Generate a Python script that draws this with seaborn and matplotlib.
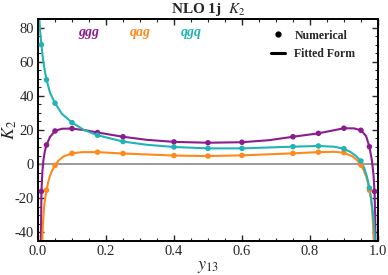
import numpy as np
import pandas as pd
import matplotlib
matplotlib.use("Agg")
import matplotlib.pyplot as plt
import seaborn as sns
from matplotlib.ticker import MultipleLocator
from matplotlib.lines import Line2D

# numerical points
y13_pts = [0.01, 0.025, 0.05, 0.1, 0.175, 0.25, 0.4, 0.5, 0.6, 0.75, 0.825, 0.9, 0.95, 0.975, 0.99]
ggg_pts = [-16, 11.2, 19.4, 20.8, 18.5, 16.0, 13.0, 12.5, 12.8, 16.0, 18.0, 21.0, 19.8, 10.2, -16]
qag_pts = [-60, -15.3, -0.8, 6.3, 7.0, 6.2, 5.0, 4.7, 5.1, 6.3, 7.0, 6.7, -0.6, -15.3, -60]
qgq_pts = [70, 49.4, 35.7, 24.3, 16.9, 13.2, 10.0, 9.2, 9.2, 10.2, 10.6, 9.0, 1.8, -14, -60]

# fitted-form curves (denser near the edges)
ggg_x = [0.007, 0.0085, 0.01, 0.013, 0.016, 0.02, 0.025, 0.035, 0.05, 0.07, 0.1, 0.14, 0.175, 0.25, 0.32,
         0.4, 0.5, 0.6, 0.68, 0.75, 0.825, 0.87, 0.9, 0.93, 0.95, 0.965, 0.975, 0.982, 0.987, 0.99, 0.992, 0.994]
ggg_y = [-80, -45, -16, -4, 2.5, 7.5, 11.2, 15.8, 19.4, 20.7, 20.8, 19.8, 18.5, 16.0, 14.2,
         13.0, 12.5, 12.8, 14.0, 16.0, 18.0, 19.8, 21.0, 20.9, 19.8, 16.5, 10.2, 2.5, -6, -16, -30, -80]
qag_x = [0.011, 0.0125, 0.015, 0.018, 0.021, 0.025, 0.03, 0.035, 0.042, 0.05, 0.06, 0.075, 0.1, 0.13, 0.175,
         0.25, 0.4, 0.5, 0.6, 0.75, 0.825, 0.87, 0.9, 0.925, 0.94, 0.95, 0.958, 0.965, 0.97, 0.975,
         0.979, 0.982, 0.985, 0.9875, 0.989]
qag_y = [-80, -45, -33, -25, -20, -15.3, -10.5, -7, -3.5, -0.8, 2.0, 4.5, 6.3, 7.0, 7.0,
         6.2, 5.0, 4.7, 5.1, 6.3, 7.0, 7.2, 6.7, 4.5, 2.0, -0.6, -3.5, -7, -10.5, -15.3,
         -20, -25, -33, -45, -80]
qgq_x = [0.003, 0.004, 0.0055, 0.007, 0.0085, 0.01, 0.0125, 0.015, 0.02, 0.025, 0.035, 0.05, 0.07, 0.1,
         0.135, 0.175, 0.25, 0.32, 0.4, 0.5, 0.6, 0.75, 0.825, 0.87, 0.9, 0.92, 0.935, 0.95, 0.96,
         0.968, 0.975, 0.98, 0.985, 0.9885, 0.991, 0.993]
qgq_y = [95, 85, 80, 76, 73, 70, 65, 61, 54.5, 49.4, 42, 35.7, 29.5, 24.3,
         20.0, 16.9, 13.2, 11.3, 10.0, 9.2, 9.2, 10.2, 10.6, 10.2, 9.0, 7.0, 4.8, 1.8, -2.5,
         -7.5, -14, -20, -28, -36, -45, -80]

channels = ["ggg", "qag", "qgq"]
colors = {"ggg": "#8C1C8E", "qag": "#FF8A1C", "qgq": "#20B4B4"}

pts = pd.DataFrame({
    "y13": y13_pts * 3,
    "K2": ggg_pts + qag_pts + qgq_pts,
    "channel": ["ggg"] * 15 + ["qag"] * 15 + ["qgq"] * 15,
})
fit = pd.concat([
    pd.DataFrame({"y13": ggg_x, "K2": ggg_y, "channel": "ggg"}),
    pd.DataFrame({"y13": qag_x, "K2": qag_y, "channel": "qag"}),
    pd.DataFrame({"y13": qgq_x, "K2": qgq_y, "channel": "qgq"}),
])

sns.set_style("ticks")
plt.rcParams["font.family"] = ["Liberation Serif", "DejaVu Serif"]
plt.rcParams["mathtext.fontset"] = "stix"
plt.rcParams["axes.unicode_minus"] = False

fig = plt.figure(figsize=(3.88, 2.75), dpi=100)
ax = fig.add_axes([0.098, 0.124, 0.876, 0.807])

ax.axhline(0, color="#8a8a8a", lw=1.2, zorder=1)
sns.lineplot(data=fit, x="y13", y="K2", hue="channel", palette=colors, hue_order=channels,
             estimator=None, sort=False, lw=1.5, legend=False, ax=ax, zorder=2)
sns.scatterplot(data=pts, x="y13", y="K2", hue="channel", palette=colors, hue_order=channels,
                s=16, edgecolor="none", legend=False, ax=ax, zorder=3)

ax.set_xlim(0, 1)
ax.set_ylim(-45, 85)
ax.xaxis.set_major_locator(MultipleLocator(0.2))
ax.xaxis.set_minor_locator(MultipleLocator(0.05))
ax.yaxis.set_major_locator(MultipleLocator(20))
ax.yaxis.set_minor_locator(MultipleLocator(5))
ax.xaxis.set_major_formatter(matplotlib.ticker.FormatStrFormatter("%.1f"))
ax.tick_params(which="both", direction="in", top=True, right=True, labelsize=10.5, pad=3)
ax.tick_params(which="major", length=4, width=1.0)
ax.tick_params(which="minor", length=2, width=0.8)
for s in ax.spines.values():
    s.set_linewidth(1.4)
    s.set_color("black")

ax.set_xlabel("$y_{13}$", fontsize=13, labelpad=0)
ax.set_ylabel("$K_2$", fontsize=13)
ax.yaxis.set_label_coords(-0.055, 0.5)
ax.set_title("NLO 1j  $\\boldsymbol{K_2}$", fontsize=11, fontweight="bold", pad=4)

# channel labels
for name, xpos in zip(channels, [0.15, 0.30, 0.45]):
    ax.text(xpos, 77, name, color=colors[name], fontsize=10, fontweight="bold",
            fontstyle="italic", ha="center", va="center")

# legend
handles = [Line2D([], [], ls="none", marker="o", ms=3.5, color="black"),
           Line2D([], [], ls="-", lw=2.2, color="black")]
leg = ax.legend(handles, ["Numerical", "Fitted Form"], loc="upper right", frameon=False,
                prop={"weight": "bold", "size": 8.5}, handlelength=1.2, handletextpad=0.8,
                labelspacing=0.55, bbox_to_anchor=(0.965, 1.0))

fig.savefig("out.png", dpi=100)
